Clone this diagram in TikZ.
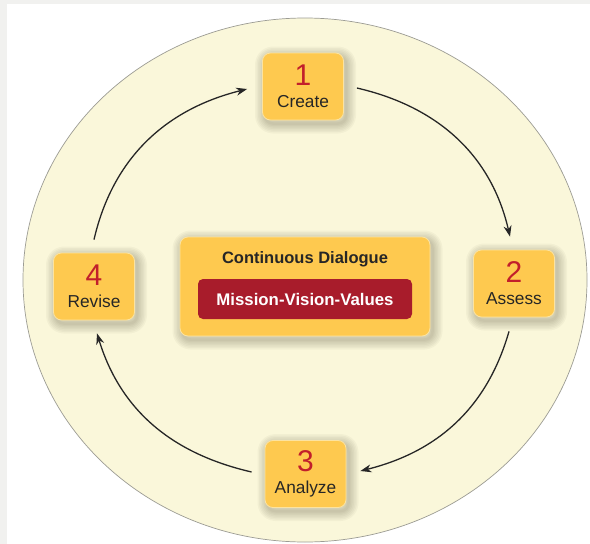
\documentclass[tikz,border=0pt]{standalone}
\usepackage{fontspec}
\setmainfont{Liberation Sans}
\usetikzlibrary{positioning,arrows.meta}
\definecolor{pagegray}{HTML}{F1F1EF}
\definecolor{cream}{HTML}{FAF7DA}
\definecolor{rimgray}{HTML}{9C9C94}
\definecolor{boxgold}{HTML}{FEC94F}
\definecolor{boxrim}{HTML}{FCE3A0}
\definecolor{numred}{HTML}{C21F2B}
\definecolor{valred}{HTML}{A81C2B}
\definecolor{inkdark}{HTML}{262626}
\definecolor{shade}{HTML}{4A4630}
\newcommand{\phasenum}[1]{{\fontsize{30}{30}\selectfont\color{numred}#1}}
\tikzset{
  halo/.style={preaction={draw=shade,line width=#1,opacity=.045,line join=round,
    transform canvas={shift={(2.5pt,-3.5pt)}}}},
  softshadow/.style={halo=20pt,halo=17pt,halo=14pt,halo=11pt,halo=8pt,halo=5pt,halo=2.5pt},
  phase/.style={softshadow,draw=boxrim,line width=.8pt,fill=boxgold,rounded corners=8pt,
    minimum width=81pt,minimum height=67pt,inner sep=0pt,align=center,text=inkdark,
    font=\fontsize{17.3}{22}\selectfont},
  hubbox/.style={softshadow,draw=boxrim,line width=.8pt,fill=boxgold,rounded corners=8pt,
    minimum width=250pt,minimum height=99pt,inner sep=0pt},
  valuebox/.style={fill=valred,rounded corners=5pt,minimum width=214pt,minimum height=40pt,
    inner sep=0pt,text=white,font=\bfseries\fontsize{16.8}{20}\selectfont},
  loopline/.style={-{Stealth[length=11pt,width=8pt]},line width=1.3pt,draw=inkdark}
}
\begin{document}
\begin{tikzpicture}[x=1pt,y=1pt]
  \useasboundingbox (0,0) rectangle (590,-544);
  \fill[pagegray] (0,0) rectangle (590,-544);
  \fill[white] (7,-4) rectangle (590,-544);
  \draw[rimgray,fill=cream,line width=.7pt] (305,-280) ellipse [x radius=282,y radius=262];

  \node[phase] (create) at (303,-86.5) {\phasenum{1}\\Create};
  \node[phase] (assess) at (514,-283.5) {\phasenum{2}\\Assess};
  \node[phase] (analyze) at (305.5,-474) {\phasenum{3}\\Analyze};
  \node[phase] (revise) at (94,-286.5) {\phasenum{4}\\Revise};

  \node[hubbox] (dialogue) at (305,-286.5) {};
  \node[anchor=base,inner sep=0pt,text=inkdark,font=\bfseries\fontsize{16.5}{20}\selectfont]
    (dialoguetitle) at (305,-263) {Continuous Dialogue};
  \node[valuebox] (values) at (305,-299) {Mission-Vision-Values};

  \draw[loopline] ([yshift=13pt]revise.north) to[out=77,in=194] ([xshift=-15pt,yshift=-2.5pt]create.west);
  \draw[loopline] ([xshift=13pt,yshift=-1.5pt]create.east) to[out=-13,in=103] ([xshift=-4pt,yshift=13pt]assess.north);
  \draw[loopline] ([xshift=-5pt,yshift=-14pt]assess.south) to[out=-106,in=14] ([xshift=14pt,yshift=3pt]analyze.east);
  \draw[loopline] ([xshift=-13pt,yshift=2pt]analyze.west) to[out=167,in=-73] ([xshift=3pt,yshift=-13pt]revise.south);
\end{tikzpicture}
\end{document}
